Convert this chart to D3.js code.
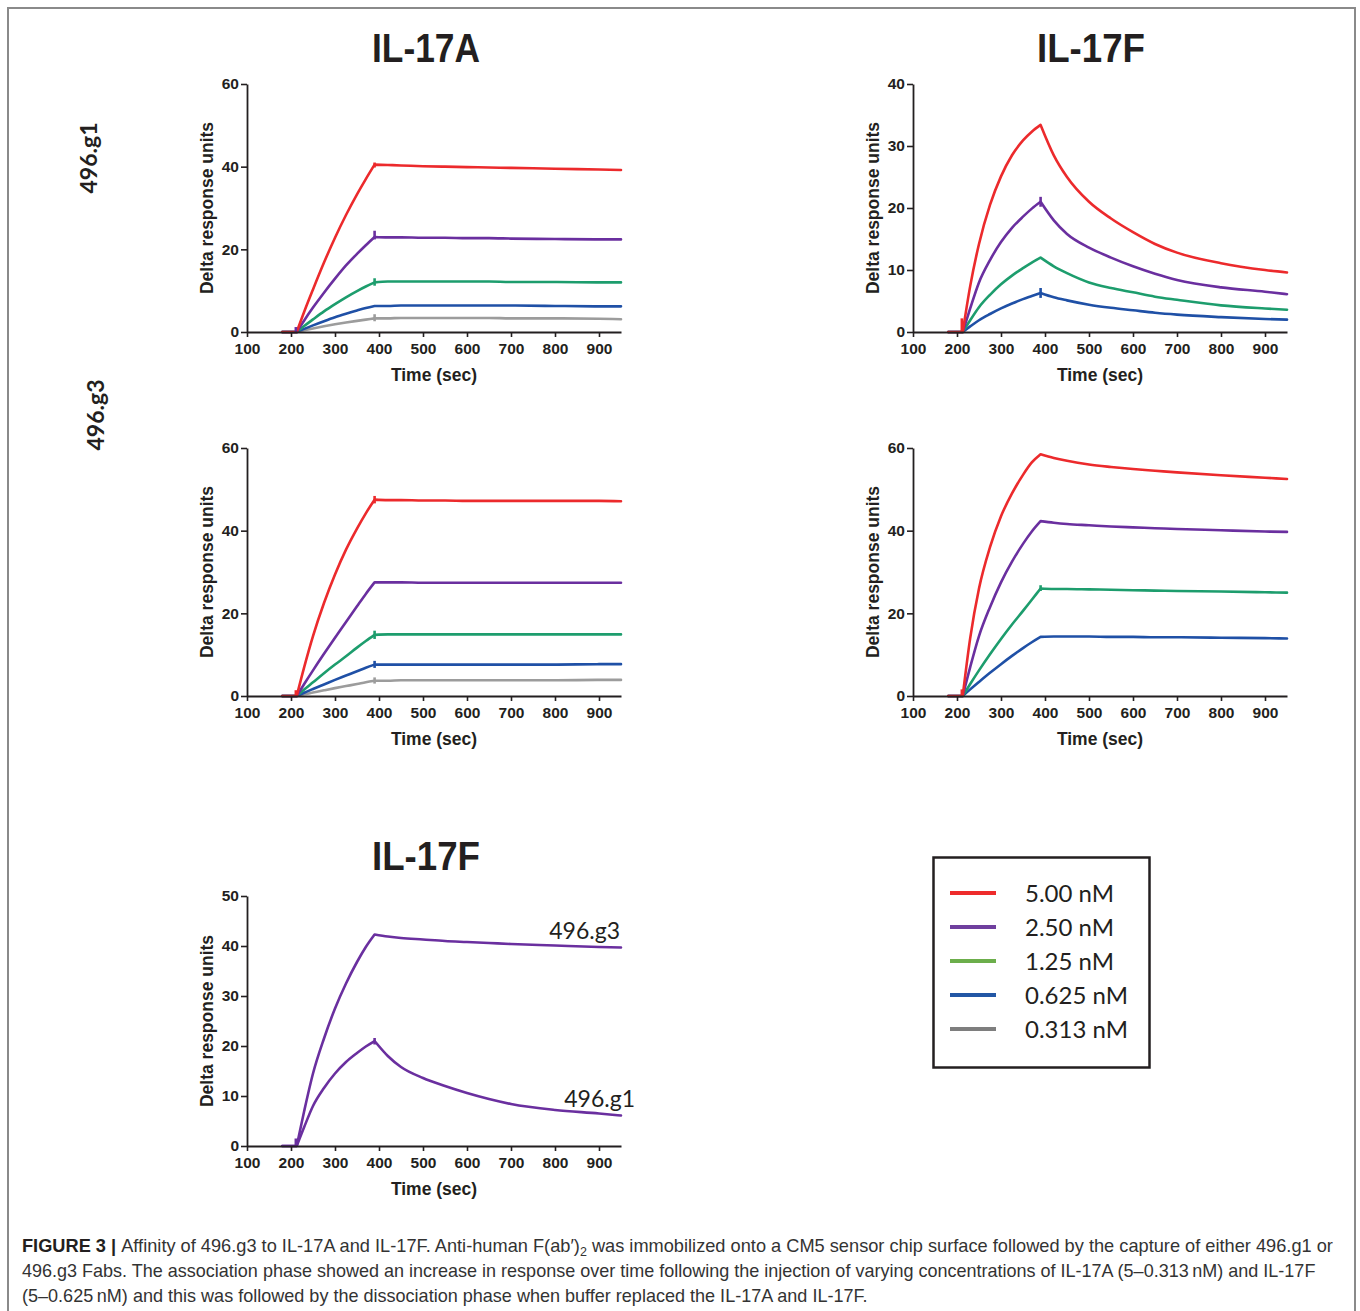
<!DOCTYPE html>
<html>
<head>
<meta charset="utf-8">
<script src="https://cdn.jsdelivr.net/npm/d3@7"></script>
<style>
  body { margin: 0; background: #fff; }
</style>
</head>
<body>
<svg id="fig" width="1360" height="1311"></svg>
<script>
// sample times (sec) shared by every sensorgram trace
const times = [180, 213, 230, 250, 275, 300, 325, 350, 370, 390, 420, 450, 500, 550, 600, 650, 700, 800, 900, 950];

// IL-17A on 496.g1 (response units)
const a_g1_500  = [0, 0, 4.9, 10.3, 16.8, 22.8, 28.3, 33.3, 37.0, 40.5, 40.4, 40.3, 40.1, 40.0, 39.9, 39.8, 39.7, 39.5, 39.3, 39.2];
const a_g1_250  = [0, 0, 2.8, 5.9, 9.5, 12.9, 16.1, 18.9, 21.0, 23.0, 22.9, 22.9, 22.8, 22.8, 22.7, 22.7, 22.6, 22.5, 22.4, 22.4];
const a_g1_125  = [0, 0, 1.45, 3.05, 5.0, 6.75, 8.4, 9.9, 11.0, 12.0, 12.2, 12.2, 12.2, 12.2, 12.2, 12.2, 12.1, 12.1, 12.0, 12.0];
const a_g1_0625 = [0, 0, 0.76, 1.6, 2.6, 3.55, 4.4, 5.2, 5.8, 6.3, 6.3, 6.4, 6.4, 6.4, 6.4, 6.4, 6.4, 6.3, 6.2, 6.2];
const a_g1_0313 = [0, 0, 0.4, 0.84, 1.37, 1.86, 2.3, 2.7, 3.0, 3.3, 3.3, 3.4, 3.4, 3.4, 3.4, 3.4, 3.3, 3.3, 3.2, 3.1];

// IL-17F on 496.g1
const f_g1_500  = [0, 0, 7.4, 14.2, 20.5, 25.1, 28.5, 30.9, 32.3, 33.4, 28.5, 25, 21, 18.3, 16.1, 14.2, 12.8, 11.1, 10.0, 9.6];
const f_g1_250  = [0, 0, 3.8, 8.0, 11.6, 14.5, 16.8, 18.6, 19.9, 21, 18, 15.8, 13.6, 12, 10.6, 9.4, 8.4, 7.2, 6.5, 6.1];
const f_g1_125  = [0, 0, 1.9, 4.0, 6.0, 7.7, 9.1, 10.3, 11.2, 12, 10.6, 9.5, 8, 7.1, 6.4, 5.7, 5.2, 4.3, 3.8, 3.6];
const f_g1_0625 = [0, 0, 0.9, 1.9, 2.9, 3.8, 4.6, 5.3, 5.8, 6.3, 5.6, 5.1, 4.4, 3.9, 3.5, 3.1, 2.8, 2.4, 2.1, 2.0];

// IL-17A on 496.g3
const a_g3_500  = [0, 0, 7.0, 14.5, 22.5, 29.4, 35.4, 40.5, 44.2, 47.5, 47.4, 47.4, 47.3, 47.3, 47.2, 47.2, 47.2, 47.2, 47.2, 47.1];
const a_g3_250  = [0, 0, 2.9, 6.2, 10.2, 14.1, 17.9, 21.7, 24.7, 27.5, 27.5, 27.5, 27.4, 27.4, 27.4, 27.4, 27.4, 27.4, 27.4, 27.4];
const a_g3_125  = [0, 0, 1.55, 3.3, 5.5, 7.6, 9.6, 11.7, 13.3, 14.8, 14.9, 14.9, 14.9, 14.9, 14.9, 14.9, 14.9, 14.9, 14.9, 14.9];
const a_g3_0625 = [0, 0, 0.8, 1.7, 2.8, 3.9, 4.95, 6.0, 6.85, 7.6, 7.6, 7.6, 7.6, 7.6, 7.6, 7.6, 7.6, 7.6, 7.7, 7.7];
const a_g3_0313 = [0, 0, 0.4, 0.83, 1.37, 1.9, 2.4, 2.9, 3.33, 3.7, 3.7, 3.8, 3.8, 3.8, 3.8, 3.8, 3.8, 3.8, 3.9, 3.9];

// IL-17F on 496.g3
const f_g3_500  = [0, 0, 14, 26, 36, 43.5, 49, 53.5, 56.5, 58.5, 57.6, 56.9, 56.0, 55.4, 54.9, 54.5, 54.1, 53.4, 52.8, 52.5];
const f_g3_250  = [0, 0, 7, 14.5, 21.5, 27.5, 32.5, 36.8, 39.8, 42.3, 41.9, 41.6, 41.3, 41.0, 40.8, 40.6, 40.4, 40.1, 39.8, 39.7];
const f_g3_125  = [0, 0, 2.9, 6.2, 10.1, 13.8, 17.3, 20.6, 23.3, 26, 25.9, 25.9, 25.8, 25.7, 25.6, 25.5, 25.4, 25.3, 25.1, 25.0];
const f_g3_0625 = [0, 0, 1.6, 3.4, 5.6, 7.7, 9.7, 11.6, 13.0, 14.3, 14.4, 14.4, 14.4, 14.3, 14.3, 14.2, 14.2, 14.1, 14.0, 13.9];

// little injection marks [time, low, high, trace]
const spikes_a_g1 = [[390, 39.8, 41, 'red'], [390, 22.4, 24.5, 'purple'], [390, 11.2, 13, 'green'], [390, 2.6, 4.3, 'gray'], [211, 0, 1.2, 'purple']];
const spikes_f_g1 = [[390, 20.2, 21.8, 'purple'], [390, 5.5, 7.1, 'blue'], [211, 0, 2.2, 'red']];
const spikes_a_g3 = [[390, 46.6, 48.4, 'red'], [390, 13.8, 15.8, 'green'], [390, 6.8, 8.5, 'blue'], [390, 3.0, 4.5, 'gray'], [211, 0, 1.4, 'red']];
const spikes_f_g3 = [[390, 25.4, 26.8, 'green'], [211, 0, 1.6, 'red']];
const spikes_cmp  = [[390, 20.3, 21.6, 'purple'], [211, 0, 1.5, 'purple']];

// legend
const concLabels = ['5.00 nM', '2.50 nM', '1.25 nM', '0.625 nM', '0.313 nM'];
const concKeys = ['red', 'purple', 'green', 'blue', 'gray'];

// tick values
const xTicks = [100, 200, 300, 400, 500, 600, 700, 800, 900];

const traceColor = { red: '#ec2a2c', purple: '#6a2f9f', green: '#1d9d6d', blue: '#1f50a6', gray: '#9c9c9c' };
const legendColor = { red: '#ee2b2b', purple: '#6f3f9e', green: '#6cae4b', blue: '#2257a5', gray: '#7e7e7e' };

const ink = '#231f20';
const tickFont = '"Liberation Sans", Arial, sans-serif';
const svg = d3.select('#fig');

svg.append('rect').attr('width', 1360).attr('height', 1311).attr('fill', '#fff');
// figure frame
svg.append('rect')
    .attr('x', 8).attr('y', 8).attr('width', 1347).attr('height', 1330)
    .attr('fill', 'none').attr('stroke', '#8a8a8a').attr('stroke-width', 2);

// panel layout: pixel box for x 100..950 and y 0..ymax
const panels = [
    { left: 247, right: 621, bottom: 332, top: 84, ymax: 60, step: 20,
      traces: [[a_g1_0313, 'gray'], [a_g1_0625, 'blue'], [a_g1_125, 'green'], [a_g1_250, 'purple'], [a_g1_500, 'red']],
      spikes: spikes_a_g1 },
    { left: 913, right: 1287, bottom: 332, top: 84, ymax: 40, step: 10,
      traces: [[f_g1_0625, 'blue'], [f_g1_125, 'green'], [f_g1_250, 'purple'], [f_g1_500, 'red']],
      spikes: spikes_f_g1 },
    { left: 247, right: 621, bottom: 696, top: 448, ymax: 60, step: 20,
      traces: [[a_g3_0313, 'gray'], [a_g3_0625, 'blue'], [a_g3_125, 'green'], [a_g3_250, 'purple'], [a_g3_500, 'red']],
      spikes: spikes_a_g3 },
    { left: 913, right: 1287, bottom: 696, top: 448, ymax: 60, step: 20,
      traces: [[f_g3_0625, 'blue'], [f_g3_125, 'green'], [f_g3_250, 'purple'], [f_g3_500, 'red']],
      spikes: spikes_f_g3 },
    { left: 247, right: 621, bottom: 1146, top: 896, ymax: 50, step: 10,
      traces: [[f_g1_250, 'purple'], [f_g3_250, 'purple']],
      spikes: spikes_cmp, labels: [['496.g3', f_g3_250], ['496.g1', f_g1_250]] }
];

// index where association starts and ends (213 s, 390 s)
const iStart = times.indexOf(213);
const iPeak = times.indexOf(390);

panels.forEach(function(p) {
    let g = svg.append('g');
    let x = d3.scaleLinear().domain([100, 950]).range([p.left, p.right]);
    let y = d3.scaleLinear().domain([0, p.ymax]).range([p.bottom, p.top]);

    let lineLin = d3.line().x(d => x(d[0])).y(d => y(d[1]));
    let lineCurve = d3.line().x(d => x(d[0])).y(d => y(d[1])).curve(d3.curveMonotoneX);

    // traces: baseline, association, dissociation
    p.traces.forEach(function(tr) {
        let pts = times.map((t, i) => [t, tr[0][i]]);
        let d = lineLin(pts.slice(0, iStart + 1))
            + lineCurve(pts.slice(iStart, iPeak + 1)).replace(/^M/, 'L')
            + lineCurve(pts.slice(iPeak)).replace(/^M/, 'L');
        g.append('path')
            .attr('d', d)
            .attr('fill', 'none')
            .attr('stroke', traceColor[tr[1]])
            .attr('stroke-width', 2.6)
            .attr('stroke-linejoin', 'round')
            .attr('stroke-linecap', 'round');
    });

    p.spikes.forEach(function(s) {
        g.append('line')
            .attr('x1', x(s[0])).attr('x2', x(s[0]))
            .attr('y1', y(s[1])).attr('y2', y(s[2]))
            .attr('stroke', traceColor[s[3]])
            .attr('stroke-width', 2.6);
    });

    // axes
    let xAxis = g.append('g')
        .attr('transform', 'translate(0,' + p.bottom + ')')
        .call(d3.axisBottom(x).tickValues(xTicks).tickSize(5).tickPadding(6).tickSizeOuter(0));
    let yAxis = g.append('g')
        .attr('transform', 'translate(' + p.left + ',0)')
        .call(d3.axisLeft(y).tickValues(d3.range(0, p.ymax + 1, p.step)).tickSize(6).tickPadding(2).tickSizeOuter(0));
    [xAxis, yAxis].forEach(function(ax) {
        ax.select('.domain').attr('stroke', ink).attr('stroke-width', 1.8);
        ax.selectAll('.tick line').attr('stroke', ink).attr('stroke-width', 1.6);
        ax.selectAll('.tick text')
            .attr('fill', ink)
            .style('font-family', tickFont)
            .style('font-size', '15.5px')
            .style('font-weight', 'bold');
    });

    // axis titles
    g.append('text')
        .attr('x', (p.left + p.right) / 2)
        .attr('y', p.bottom + 49)
        .attr('text-anchor', 'middle')
        .style('font-family', tickFont)
        .style('font-size', '17.5px')
        .style('font-weight', 'bold')
        .attr('fill', ink)
        .text('Time (sec)');
    g.append('text')
        .attr('transform', 'translate(' + (p.left - 34) + ',' + ((p.top + p.bottom) / 2) + ') rotate(-90)')
        .attr('text-anchor', 'middle')
        .style('font-family', tickFont)
        .style('font-size', '17.5px')
        .style('font-weight', 'bold')
        .attr('fill', ink)
        .text('Delta response units');

    // curve labels on the comparison panel
    if (p.labels) {
        p.labels.forEach(function(l, i) {
            let last = l[1][l[1].length - 1];
            g.append('text')
                .attr('x', i == 0 ? x(950) - 1 : x(950) + 14)
                .attr('y', y(last) - 9)
                .attr('text-anchor', 'end')
                .style('font-family', 'Lato, "Open Sans", sans-serif')
                .style('font-size', '23px')
                .attr('fill', ink)
                .text(l[0]);
        });
    }
});

// panel titles - bold sans squeezed to the condensed look
[['IL-17A', 426, 62], ['IL-17F', 1091, 62], ['IL-17F', 426, 870]].forEach(function(t) {
    let tg = svg.append('g');
    let txt = tg.append('text')
        .attr('text-anchor', 'middle')
        .style('font-family', tickFont)
        .style('font-size', '40px')
        .style('font-weight', 'bold')
        .attr('fill', ink)
        .text(t[0]);
    let sx = 108 / txt.node().getComputedTextLength();
    tg.attr('transform', 'translate(' + t[1] + ',' + t[2] + ') scale(' + sx + ',1)');
});

// row labels
[['496.g1', 97, 158], ['496.g3', 104, 415]].forEach(function(t) {
    svg.append('text')
        .attr('transform', 'translate(' + t[1] + ',' + t[2] + ') rotate(-90)')
        .attr('text-anchor', 'middle')
        .style('font-family', 'Lato, "Open Sans", sans-serif')
        .style('font-size', '23px')
        .style('font-weight', 'bold')
        .attr('fill', ink)
        .text(t[0]);
});

// legend box
let legend = svg.append('g');
legend.append('rect')
    .attr('x', 933.5).attr('y', 857.5).attr('width', 216).attr('height', 210)
    .attr('fill', 'none').attr('stroke', ink).attr('stroke-width', 2.5);
concLabels.forEach(function(lab, i) {
    let yy = 893 + i * 34;
    legend.append('line')
        .attr('x1', 950).attr('x2', 996).attr('y1', yy).attr('y2', yy)
        .attr('stroke', legendColor[concKeys[i]]).attr('stroke-width', 4);
    legend.append('text')
        .attr('x', 1025).attr('y', yy + 9)
        .style('font-family', 'Lato, "Open Sans", sans-serif')
        .style('font-size', '24px')
        .attr('fill', ink)
        .text(lab);
});

// caption, each line squeezed horizontally to its width in the figure
function capLine(yPos, width) {
    let lg = svg.append('g').attr('fill', '#333').style('font-family', tickFont).style('font-size', '17.5px');
    let t = lg.append('text').attr('x', 0).attr('y', yPos);
    return { g: lg, t: t, w: width };
}
let c1 = capLine(1252, 1311);
c1.t.append('tspan').style('font-weight', 'bold').attr('fill', ink).text('FIGURE 3 | ');
c1.t.append('tspan').text('Affinity of 496.g3 to IL-17A and IL-17F. Anti-human F(ab\u2032)');
c1.t.append('tspan').attr('dy', 4).style('font-size', '12px').text('2');
c1.t.append('tspan').attr('dy', -4).text(' was immobilized onto a CM5 sensor chip surface followed by the capture of either 496.g1 or');
let c2 = capLine(1277, 1294);
c2.t.text('496.g3 Fabs. The association phase showed an increase in response over time following the injection of varying concentrations of IL-17A (5\u20130.313\u2009nM) and IL-17F');
let c3 = capLine(1302, 846);
c3.t.text('(5\u20130.625\u2009nM) and this was followed by the dissociation phase when buffer replaced the IL-17A and IL-17F.');
[c1, c2, c3].forEach(function(c) {
    let w = c.t.node().getComputedTextLength();
    c.g.attr('transform', 'translate(22,0) scale(' + (c.w / w) + ',1)');
});
</script>
</body>
</html>
